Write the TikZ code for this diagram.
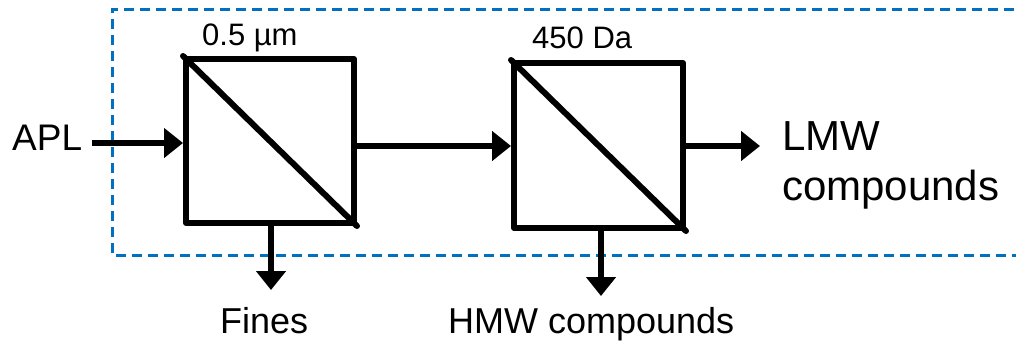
\documentclass[tikz,border=0pt]{standalone}
\usepackage{fontspec}
\setmainfont{Liberation Sans}
\usetikzlibrary{arrows.meta}
\definecolor{dashblue}{RGB}{0,112,192}
\begin{document}
\begin{tikzpicture}[x=1pt,y=-1pt,
  filt/.style={draw,line width=6pt,line join=round,minimum width=168pt,minimum height=164pt,inner sep=0pt},
  arr/.style={line width=6pt,-{Triangle[length=19pt,width=29pt]}},
  lbl/.style={inner sep=0pt,anchor=base west}]
\useasboundingbox (0,0) rectangle (1016,343);
\draw[dashblue,line width=3pt,dash pattern=on 10pt off 6pt] (1030,9) -- (112,9) -- (112,255) -- (1030,255);
\node[filt] (b1) at (270,141) {};
\node[filt,minimum width=169pt,minimum height=165pt] (b2) at (598.5,145.5) {};
\draw[line width=6pt,line cap=round] (b1.north west) -- (b1.south east);
\draw[line width=6pt,line cap=round] (b2.north west) -- (b2.south east);
\node[lbl,font=\fontsize{31}{36}\selectfont] (m1) at (202,45) {0.5 µm};
\node[lbl,font=\fontsize{31}{36}\selectfont] (m2) at (532,48) {450 Da};
\node[lbl,font=\fontsize{37}{44}\selectfont] (apl) at (12,150) {APL};
\node[lbl,font=\fontsize{42}{50}\selectfont] (lmw) at (782,150) {LMW};
\node[lbl,font=\fontsize{42}{50}\selectfont] (lmw2) at (782,200) {compounds};
\node[lbl,font=\fontsize{36}{42}\selectfont] (fines) at (220,333) {Fines};
\node[lbl,font=\fontsize{36}{42}\selectfont] (hmw) at (448,333) {HMW compounds};
\coordinate (aplend) at (92,143);
\coordinate (lmwend) at (760,146);
\coordinate (finesend) at (271,290);
\coordinate (hmwend) at (601,296);
\draw[arr] (aplend) -- (b1.west |- aplend);
\draw[arr] (b1.east |- 0,146) -- (b2.west |- 0,146);
\draw[arr] (b2.east |- lmwend) -- (lmwend);
\draw[arr] (b1.south -| finesend) -- (finesend);
\draw[arr] (b2.south -| hmwend) -- (hmwend);
\end{tikzpicture}
\end{document}
